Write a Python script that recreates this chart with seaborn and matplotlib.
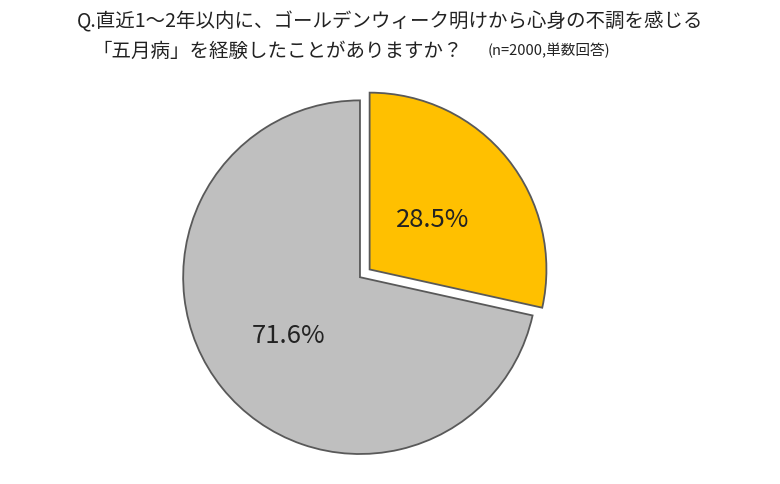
import matplotlib
matplotlib.use("Agg")
import matplotlib.pyplot as plt
import seaborn as sns
import numpy as np

sns.set_theme(style="white")
plt.rcParams['font.family'] = ['Noto Sans CJK JP', 'DejaVu Sans']

labels = ["経験あり", "経験なし"]
values = [28.5, 71.6]
pct_labels = ["28.5%", "71.6%"]
colors = ["#FFC000", "#BFBFBF"]

fig = plt.figure(figsize=(7.8, 4.85), dpi=100)
ax = fig.add_axes([0.212, 0.0254, 0.499, 0.802])
wedges, _ = ax.pie(values, colors=colors, startangle=90, counterclock=False,
                   explode=[0.07, 0], radius=1,
                   wedgeprops=dict(edgecolor="#595959", linewidth=1.3))
for w, t, d in zip(wedges, pct_labels, [0.46, 0.52]):
    ang = np.deg2rad((w.theta1 + w.theta2) / 2)
    cx, cy = w.center
    ax.text(cx + d * np.cos(ang), cy + d * np.sin(ang), t,
            ha="center", va="center", fontsize=18.5, color="#222222")
ax.set_xlim(-1.1, 1.1)
ax.set_ylim(-1.1, 1.1)
ax.set_aspect("equal")
ax.axis("off")

fig.text(0.5, 0.955, "Q.直近1～2年以内に、ゴールデンウィーク明けから心身の不調を感じる",
         ha="center", va="center", fontsize=14, color="#222222")
fig.text(0.118, 0.895, "「五月病」を経験したことがありますか？",
         ha="left", va="center", fontsize=14, color="#222222")
fig.text(0.625, 0.895, "(n=2000,単数回答)", ha="left", va="center",
         fontsize=10.5, color="#222222")

fig.savefig("out.png", dpi=100, facecolor="white")
